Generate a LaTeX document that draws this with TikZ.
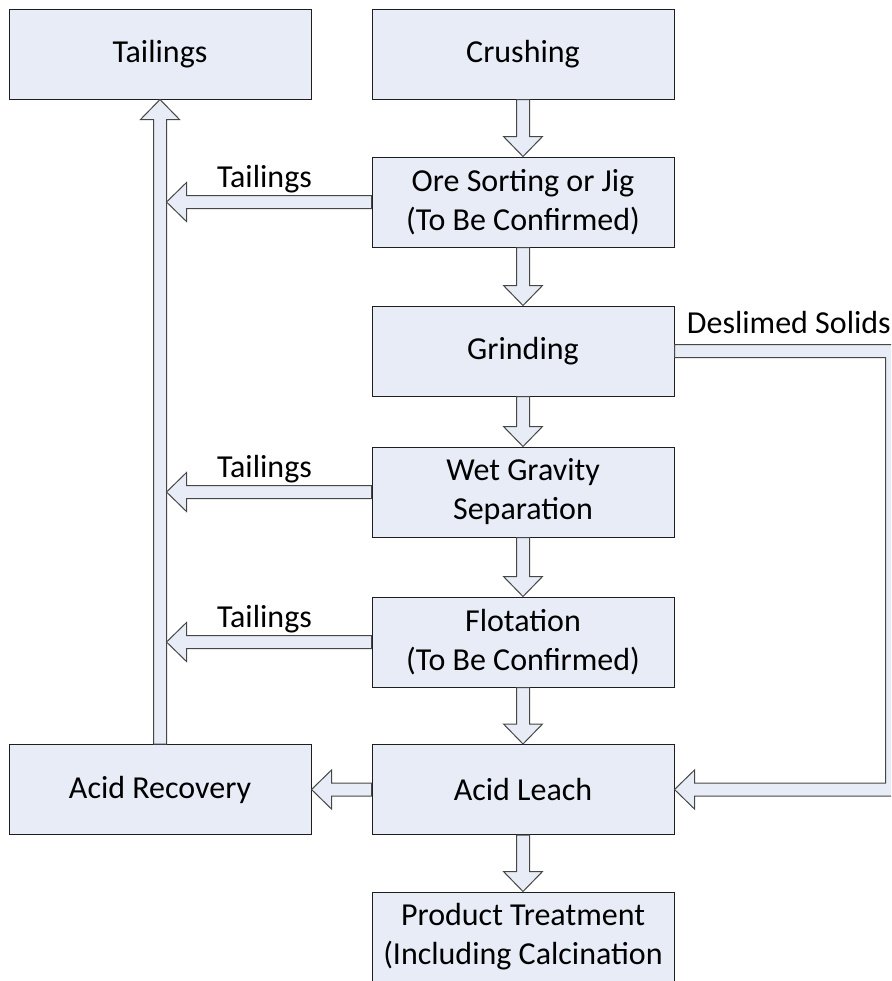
\documentclass[tikz,border=0pt]{standalone}
\usepackage{fontspec}
\setmainfont{Carlito}
\usetikzlibrary{calc}
\definecolor{paleblue}{RGB}{231,236,246}
\definecolor{boxedge}{RGB}{30,30,30}
\definecolor{arrowedge}{RGB}{70,70,70}
\tikzset{
  stage/.style={draw=boxedge,fill=paleblue,line width=0.5pt,minimum width=151pt,
    minimum height=45pt,align=center,inner sep=2pt,font=\fontsize{16}{19.5}\selectfont},
  hollow/.style={draw=arrowedge,fill=paleblue,line width=0.5pt,line join=miter},
  flowlabel/.style={inner sep=0pt,font=\fontsize{16}{19.5}\selectfont},
}
% hollow block arrow from #1 to #2 (shaft 6.5pt, head 19.5pt wide, 10pt long)
\newcommand{\blockarrow}[2]{%
  \path[hollow] let \p1=(#1), \p2=(#2), \n1={atan2(\y2-\y1,\x2-\x1)},
    \n2={veclen(\x2-\x1,\y2-\y1)} in [shift={(\p1)},rotate=\n1]
    (0pt,-3.25pt) -- (\n2-10pt,-3.25pt) -- (\n2-10pt,-9.75pt) -- (\n2+0pt,0pt)
    -- (\n2-10pt,9.75pt) -- (\n2-10pt,3.25pt) -- (0pt,3.25pt) -- cycle;}

\begin{document}
\begin{tikzpicture}[x=0.5pt,y=-0.5pt]
  \clip (0,0) rectangle (891,981);
  \node[stage] (tail) at (160,54) {Tailings};
  \node[stage] (crush) at (523,54) {Crushing};
  \node[stage] (ore) at (523,202) {Ore Sorting or Jig\\(To Be Confirmed)};
  \node[stage] (grind) at (523,351) {Grinding};
  \node[stage] (wet) at (523,492) {Wet Gravity\\Separation};
  \node[stage] (flot) at (523,642) {Flotation\\(To Be Confirmed)};
  \node[stage] (leach) at (523,789.5) {Acid Leach};
  \node[stage] (recov) at (160,789.5) {Acid Recovery};
  \node[stage] (prod) at (523,937) {Product Treatment\\(Including Calcination};

  % main line
  \blockarrow{crush.south}{ore.north}
  \blockarrow{ore.south}{grind.north}
  \blockarrow{grind.south}{wet.north}
  \blockarrow{wet.south}{flot.north}
  \blockarrow{flot.south}{leach.north}
  \blockarrow{leach.south}{prod.north}
  \blockarrow{leach.west}{recov.east}
  \blockarrow{recov.north}{tail.south}

  % tailings to the left
  \coordinate (t1) at ($(ore.west -| tail.south)+(6.5,0)$);
  \coordinate (t2) at ($(wet.west -| tail.south)+(6.5,0)$);
  \coordinate (t3) at ($(flot.west -| tail.south)+(6.5,0)$);
  \blockarrow{ore.west}{t1}
  \blockarrow{wet.west}{t2}
  \blockarrow{flot.west}{t3}
  \node[flowlabel,anchor=base] (lbl1) at ($(ore.west)!0.5!(t1)+(-4.5,-14.5)$) {Tailings};
  \node[flowlabel,anchor=base] (lbl2) at ($(wet.west)!0.5!(t2)+(-4.5,-14.5)$) {Tailings};
  \node[flowlabel,anchor=base] (lbl3) at ($(flot.west)!0.5!(t3)+(-4.5,-14.5)$) {Tailings};

  % deslimed solids loop
  \coordinate (ds1) at ($(grind.east)+(217.5,0)$);
  \coordinate (ds2) at (ds1 |- leach.east);
  \path[hollow] ($(grind.east)+(0,-6.5)$) -- ($(ds1)+(6.5,-6.5)$) -- ($(ds2)+(6.5,6.5)$)
    -- ($(leach.east)+(20,6.5)$) -- ($(leach.east)+(20,19.5)$) -- (leach.east)
    -- ($(leach.east)+(20,-19.5)$) -- ($(leach.east)+(20,-6.5)$) -- ($(ds2)+(-6.5,-6.5)$)
    -- ($(ds1)+(-6.5,6.5)$) -- ($(grind.east)+(0,6.5)$) -- cycle;
  \node[flowlabel,anchor=base west] (dslbl) at ($(grind.east)+(12,-18)$) {Deslimed Solids};
\end{tikzpicture}
\end{document}
